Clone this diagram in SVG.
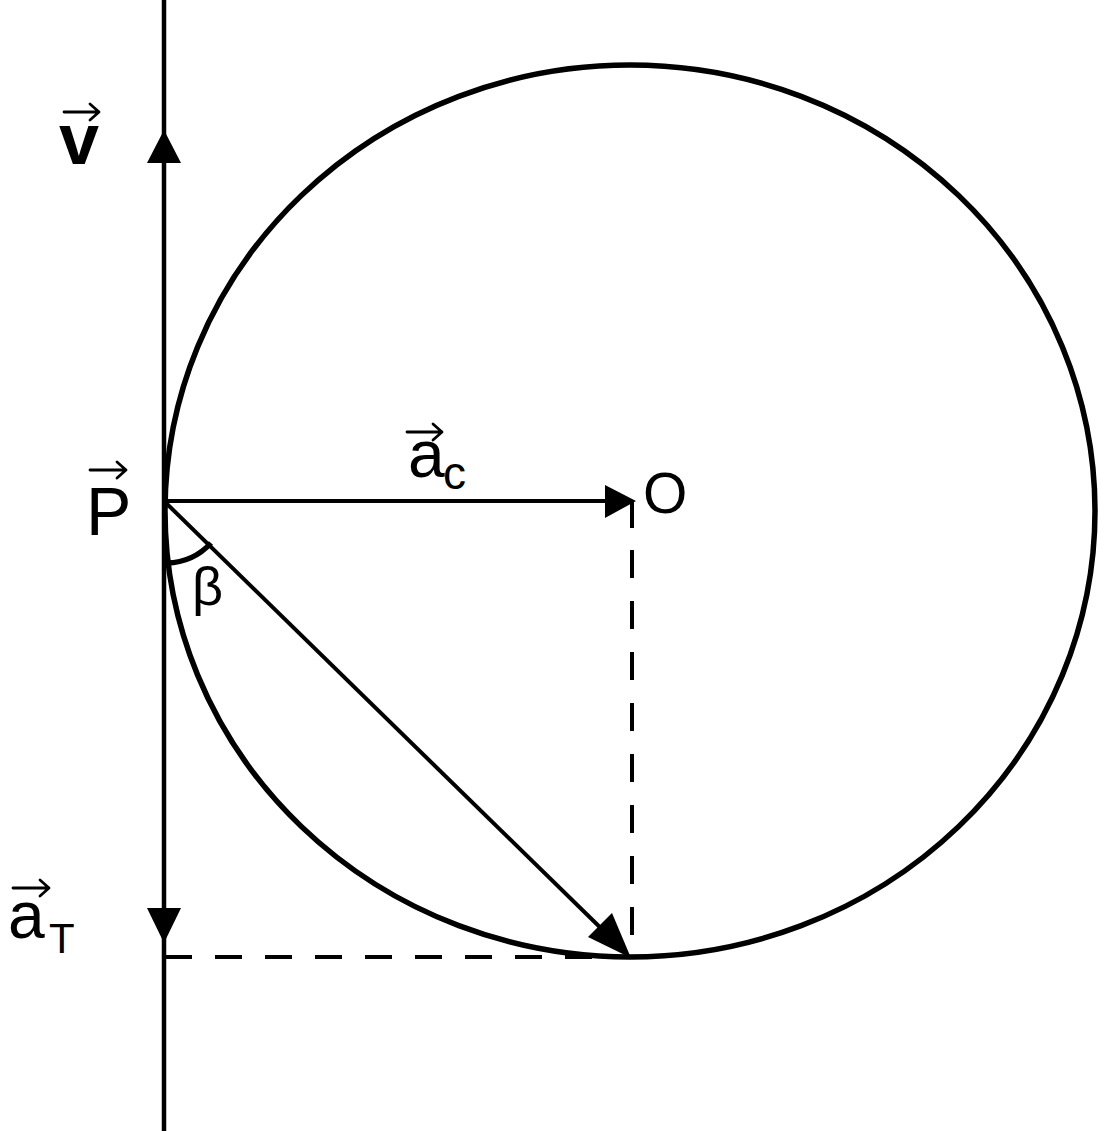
<svg xmlns="http://www.w3.org/2000/svg" width="1104" height="1131" viewBox="0 0 1104 1131">
<style>
.ln{stroke:#000;fill:none;stroke-linecap:butt}
.hd{fill:#000;stroke:none}
.t{font-family:"Liberation Sans",Arial,sans-serif;fill:#000}
.ov{stroke:#000;stroke-width:2.8;fill:none;stroke-linecap:round;stroke-linejoin:round}
</style>
<rect width="1104" height="1131" fill="#fff"/>
<g id="circle">
<ellipse cx="630" cy="511" rx="465" ry="446" class="ln" stroke-width="5.5"/>
</g>
<g id="connectors">
<line x1="164" y1="0" x2="164" y2="1131" class="ln" stroke-width="4.5"/>
<polygon class="hd" points="164,130 147,163 181,163"/>
<polygon class="hd" points="164,943 147,908 181,908"/>
<line x1="165" y1="501" x2="610" y2="501" class="ln" stroke-width="4"/>
<polygon class="hd" points="636,501 605,485 605,518"/>
<line x1="632" y1="500" x2="632" y2="528" class="ln" stroke-width="4"/>
<line x1="632" y1="550" x2="632" y2="955" class="ln" stroke-width="4" stroke-dasharray="28 23"/>
<line x1="165" y1="957" x2="630" y2="957" class="ln" stroke-width="4" stroke-dasharray="27 23"/>
<line x1="165" y1="502" x2="612" y2="939" class="ln" stroke-width="4"/>
<polygon class="hd" points="631,958 588,937 612,913"/>
<path d="M167 563 A62 62 0 0 0 211 543" class="ln" stroke-width="5.5"/>
</g>
<g id="label-v">
<text class="t" x="59" y="164" font-size="72" font-weight="bold">v</text>
<path class="ov" d="M64 112 H99 M90 104 L99 112 L90 120"/>
</g>
<g id="label-P">
<text class="t" x="86" y="535" font-size="68">P</text>
<path class="ov" d="M90 470 H126 M117 462 L126 470 L117 478"/>
</g>
<g id="label-ac">
<text class="t" x="408" y="477" font-size="66">a</text>
<text class="t" x="443" y="489" font-size="46">c</text>
<path class="ov" d="M407 432 H442 M433 424 L442 432 L433 440"/>
</g>
<g id="label-O">
<text class="t" x="643" y="513" font-size="57">O</text>
</g>
<g id="label-beta">
<text class="t" x="192" y="605" font-size="54">β</text>
</g>
<g id="label-aT">
<text class="t" x="8" y="938" font-size="66">a</text>
<text class="t" x="49" y="953" font-size="42">T</text>
<path class="ov" d="M13 888 H49 M40 880 L49 888 L40 896"/>
</g>
</svg>
